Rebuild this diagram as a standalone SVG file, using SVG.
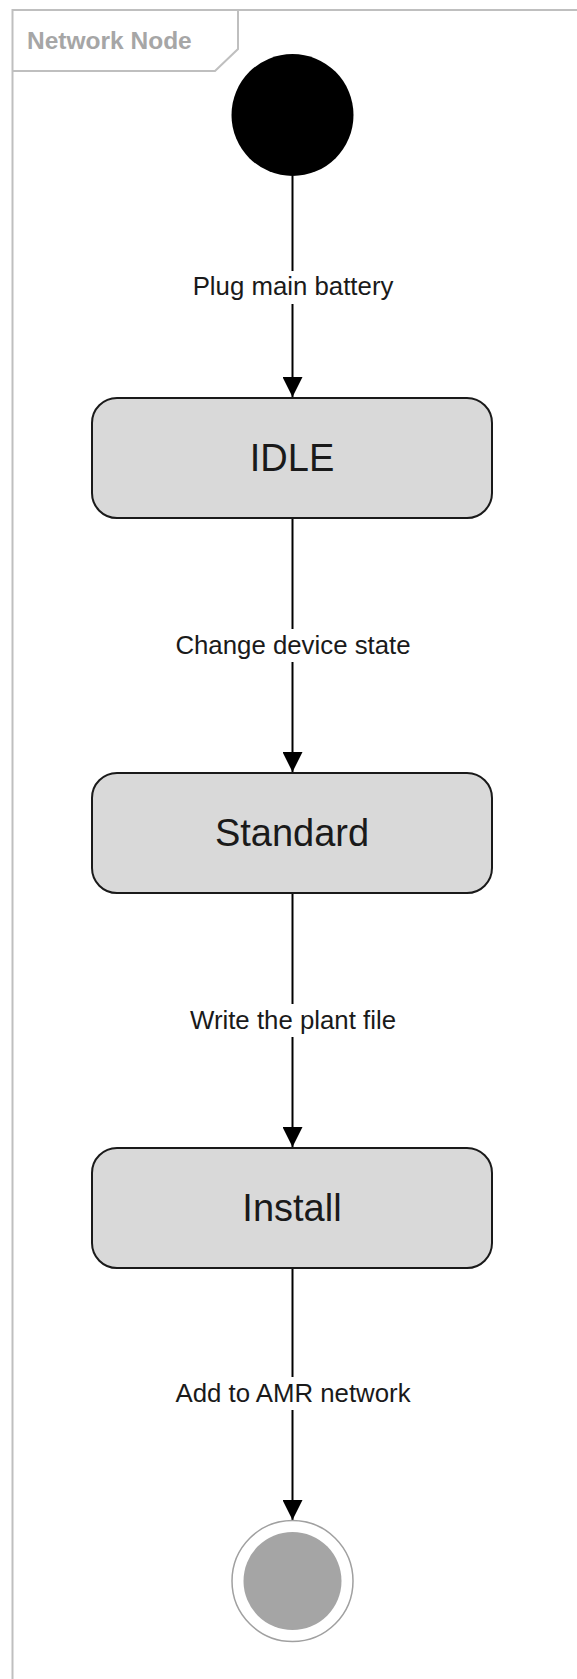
<svg xmlns="http://www.w3.org/2000/svg" width="577" height="1679" viewBox="0 0 577 1679">
<style>
.frame{fill:none;stroke:#bfbfbf;stroke-width:2}
.title{font-family:"Liberation Sans",Arial,sans-serif;font-weight:bold;font-size:24.5px;fill:#a6a6a6}
.state{fill:#d9d9d9;stroke:#1a1a1a;stroke-width:2}
.stxt{font-family:"Liberation Sans",Arial,sans-serif;font-size:38px;fill:#1a1a1a;text-anchor:middle}
.edge{stroke:#000;stroke-width:2;fill:none}
.lbl{font-family:"Liberation Sans",Arial,sans-serif;font-size:25.8px;fill:#1a1a1a;text-anchor:middle}
.lblbg{fill:#fff}
</style>
<defs>
<marker id="arr" viewBox="0 0 20 20" markerWidth="20" markerHeight="20" refX="20" refY="10" orient="auto" markerUnits="userSpaceOnUse">
<path d="M0,0 L20,10 L0,20 Z" fill="#000"/>
</marker>
</defs>
<rect width="577" height="1679" fill="#fff"/>
<g id="frame">
<path class="frame" d="M12.5,1680 L12.5,10 L580,10"/>
<path class="frame" d="M238,10 L238,49 L215,71 L12.5,71"/>
<text class="title" x="27" y="49">Network Node</text>
</g>
<g id="connectors">
<line class="edge" x1="292.5" y1="176" x2="292.5" y2="397" marker-end="url(#arr)"/>
<line class="edge" x1="292.5" y1="518" x2="292.5" y2="772" marker-end="url(#arr)"/>
<line class="edge" x1="292.5" y1="893" x2="292.5" y2="1147" marker-end="url(#arr)"/>
<line class="edge" x1="292.5" y1="1268" x2="292.5" y2="1520" marker-end="url(#arr)"/>
<g id="label1"><rect class="lblbg" x="188" y="271" width="210" height="33"/><text class="lbl" x="293" y="295">Plug main battery</text></g>
<g id="label2"><rect class="lblbg" x="172" y="629" width="241" height="33"/><text class="lbl" x="293" y="654">Change device state</text></g>
<g id="label3"><rect class="lblbg" x="178" y="1004" width="230" height="33"/><text class="lbl" x="293" y="1029">Write the plant file</text></g>
<g id="label4"><rect class="lblbg" x="170" y="1377" width="246" height="33"/><text class="lbl" x="293" y="1402">Add to AMR network</text></g>
</g>
<g id="initial">
<circle cx="292.5" cy="115" r="61" fill="#000"/>
</g>
<g id="idle">
<rect class="state" x="92" y="398" width="400" height="120" rx="25"/>
<text class="stxt" x="292" y="471">IDLE</text>
</g>
<g id="standard">
<rect class="state" x="92" y="773" width="400" height="120" rx="25"/>
<text class="stxt" x="292" y="846">Standard</text>
</g>
<g id="install">
<rect class="state" x="92" y="1148" width="400" height="120" rx="25"/>
<text class="stxt" x="292" y="1221">Install</text>
</g>
<g id="final">
<circle cx="292.5" cy="1581" r="60.5" fill="#fff" stroke="#a0a0a0" stroke-width="1.5"/>
<circle cx="292.5" cy="1581" r="49" fill="#a5a5a5"/>
</g>
</svg>
